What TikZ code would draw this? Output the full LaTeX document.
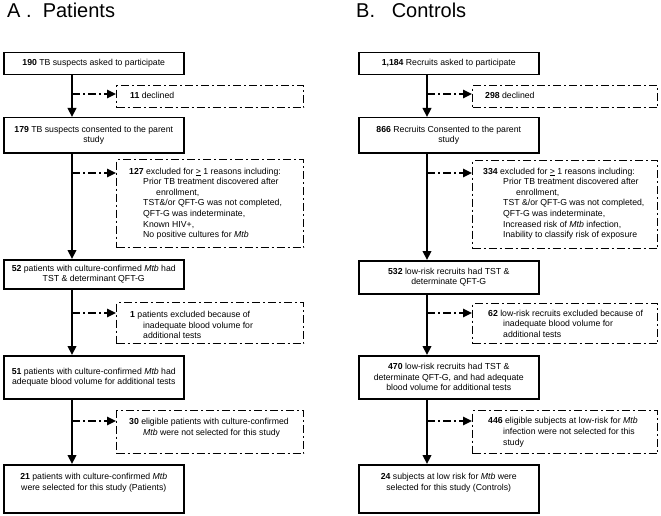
\documentclass[tikz,border=0pt]{standalone}
\usepackage{fontspec}
\setmainfont{Liberation Sans}
\usetikzlibrary{arrows.meta,calc}
\newcommand\fsz{\fontsize{8.7}{10.6}\selectfont}
\tikzset{
 sbox/.style={draw, line width=1.5pt, anchor=north west, inner sep=0pt, align=center, font=\fsz, minimum width=180pt},
 dbox/.style={draw, line width=1.4pt, dash pattern=on 8pt off 3pt on 2pt off 3pt, anchor=north west, inner sep=0pt},
 dtext/.style={anchor=west, align=left, inner sep=0pt, font=\fsz},
 mainarr/.style={line width=2.2pt, -{Triangle[length=9pt,width=8.5pt]}},
 dasharr/.style={line width=1.6pt, dash pattern=on 8pt off 3pt on 2pt off 3pt, -{Triangle[length=9pt,width=8.5pt]}},
 ttl/.style={anchor=base west, inner sep=0pt, font=\fontsize{20}{24}\selectfont},
}
\begin{document}
\begin{tikzpicture}[x=1pt,y=-1pt]
\useasboundingbox[fill=white] (0,0) rectangle (661,516);
% titles
\node[ttl] (tA) at (7,18) {A .\ \ Patients};
\node[ttl] (tB) at (356,18) {B.\ \ \ Controls};
% ---------------- left panel
\coordinate (vl) at (72,0);
\node[sbox, minimum height=22pt] (a1) at (3,52) {\textbf{190} TB suspects asked to participate};
\node[sbox, minimum height=35pt] (a2) at (3,117) {\textbf{179} TB suspects consented to the parent\\study};
\node[sbox, minimum height=29pt] (a3) at (3,259) {\textbf{52} patients with culture-confirmed \textit{Mtb} had\\TST \& determinant QFT-G};
\node[sbox, minimum height=43pt] (a4) at (3,355) {\textbf{51} patients with culture-confirmed \textit{Mtb} had\\adequate blood volume for additional tests};
\node[sbox, minimum height=48pt] (a5) at (3,464) {\textbf{21} patients with culture-confirmed \textit{Mtb}\\were selected for this study (Patients)\\ \strut};

\node[dbox, minimum width=187pt, minimum height=22pt] (e1) at (116,85) {};
\node[dbox, minimum width=187pt, minimum height=88pt] (e2) at (116,159) {};
\node[dbox, minimum width=187pt, minimum height=41pt] (e3) at (116,302) {};
\node[dbox, minimum width=187pt, minimum height=43pt] (e4) at (116,410) {};

\node[dtext] (f1) at ([xshift=14pt,yshift=1.5pt]e1.west) {\textbf{11} declined};
\node[dtext] (f2) at ([xshift=13pt]e2.west) {\textbf{127} excluded for \underline{>} 1 reasons including:\\
\hspace*{14pt}Prior TB treatment discovered after\\
\hspace*{27pt}enrollment,\\
\hspace*{14pt}TST\&/or QFT-G was not completed,\\
\hspace*{14pt}QFT-G was indeterminate,\\
\hspace*{14pt}Known HIV+,\\
\hspace*{14pt}No positive cultures for \textit{Mtb}};
\node[dtext] (f3) at ([xshift=14pt,yshift=-2pt]e3.west) {\textbf{1} patients excluded because of\\
\hspace*{13pt}inadequate blood volume for\\
\hspace*{13pt}additional tests};
\node[dtext] (f4) at ([xshift=13pt,yshift=4.5pt]e4.west) {\textbf{30} eligible patients with culture-confirmed\\
\hspace*{14pt}\textit{Mtb} were not selected for this study};

\coordinate (p1) at (e1.west |- 0,94);
\coordinate (p2) at (e2.west |- 0,173);
\coordinate (p3) at (e3.west |- 0,313);
\coordinate (p4) at (e4.west |- 0,421);

\draw[mainarr] (a1.south -| vl) -- (a2.north -| vl);
\draw[mainarr] (a2.south -| vl) -- (a3.north -| vl);
\draw[mainarr] (a3.south -| vl) -- (a4.north -| vl);
\draw[mainarr] (a4.south -| vl) -- (a5.north -| vl);
\draw[dasharr] (vl |- p1) -- (p1);
\draw[dasharr] (vl |- p2) -- (p2);
\draw[dasharr] (vl |- p3) -- (p3);
\draw[dasharr] (vl |- p4) -- (p4);

% ---------------- right panel
\coordinate (vr) at (427,0);
\node[sbox, minimum height=22pt] (b1) at (358,52) {\textbf{1,184} Recruits asked to participate};
\node[sbox, minimum height=35pt] (b2) at (358,117) {\textbf{866} Recruits Consented to the parent\\study};
\node[sbox, minimum height=33pt] (b3) at (358,260) {\textbf{532} low-risk recruits had TST \&\\determinate QFT-G};
\node[sbox, minimum height=43pt] (b4) at (358,355) {\textbf{470} low-risk recruits had TST \&\\determinate QFT-G, and had adequate\\blood volume for additional tests};
\node[sbox, minimum height=48pt] (b5) at (358,464) {\textbf{24} subjects at low risk for \textit{Mtb} were\\selected for this study (Controls)\\ \strut};

\node[dbox, minimum width=185pt, minimum height=22pt] (g1) at (472,85) {};
\node[dbox, minimum width=185pt, minimum height=88pt] (g2) at (472,160) {};
\node[dbox, minimum width=185pt, minimum height=40pt] (g3) at (472,303) {};
\node[dbox, minimum width=185pt, minimum height=43pt] (g4) at (472,410) {};

\node[dtext] (h1) at ([xshift=13pt,yshift=1.5pt]g1.west) {\textbf{298} declined};
\node[dtext] (h2) at ([xshift=11pt,yshift=1pt]g2.west) {\textbf{334} excluded for \underline{>} 1 reasons including:\\
\hspace*{20pt}Prior TB treatment discovered after\\
\hspace*{33pt}enrollment,\\
\hspace*{20pt}TST \&/or QFT-G was not completed,\\
\hspace*{20pt}QFT-G was indeterminate,\\
\hspace*{20pt}Increased risk of \textit{Mtb} infection,\\
\hspace*{20pt}Inability to classify risk of exposure};
\node[dtext] (h3) at ([xshift=16pt]g3.west) {\textbf{62} low-risk recruits excluded because of\\
\hspace*{15pt}inadequate blood volume for\\
\hspace*{15pt}additional tests};
\node[dtext] (h4) at ([xshift=16pt]g4.west) {\textbf{446} eligible subjects at low-risk for \textit{Mtb}\\
\hspace*{15pt}infection were not selected for this\\
\hspace*{15pt}study};

\coordinate (q1) at (g1.west |- 0,94);
\coordinate (q2) at (g2.west |- 0,173);
\coordinate (q3) at (g3.west |- 0,313);
\coordinate (q4) at (g4.west |- 0,421);

\draw[mainarr] (b1.south -| vr) -- (b2.north -| vr);
\draw[mainarr] (b2.south -| vr) -- (b3.north -| vr);
\draw[mainarr] (b3.south -| vr) -- (b4.north -| vr);
\draw[mainarr] (b4.south -| vr) -- (b5.north -| vr);
\draw[dasharr] (vr |- q1) -- (q1);
\draw[dasharr] (vr |- q2) -- (q2);
\draw[dasharr] (vr |- q3) -- (q3);
\draw[dasharr] (vr |- q4) -- (q4);
\end{tikzpicture}
\end{document}
